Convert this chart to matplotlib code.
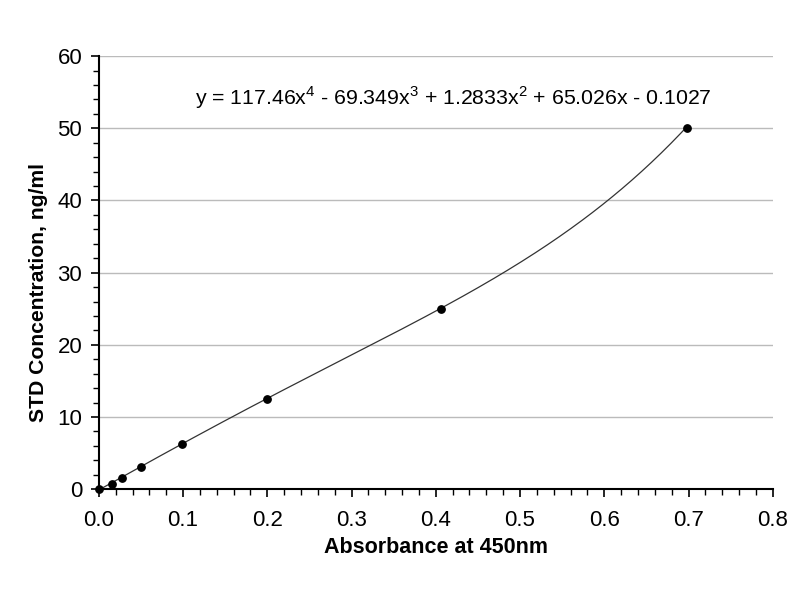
import matplotlib
matplotlib.use('Agg')
import matplotlib.pyplot as plt
import numpy as np
from matplotlib.ticker import MultipleLocator

# standard curve points
absorbance = [0.0, 0.016, 0.028, 0.050, 0.099, 0.200, 0.406, 0.698]
concentration = [0.0, 0.78, 1.56, 3.125, 6.25, 12.5, 25.0, 50.0]

# 4th order polynomial fit coefficients (highest power first)
coeffs = [117.46, -69.349, 1.2833, 65.026, -0.1027]
eq_text = 'y = 117.46x$^4$ - 69.349x$^3$ + 1.2833x$^2$ + 65.026x - 0.1027'

plt.rcParams['font.family'] = ['Liberation Sans', 'DejaVu Sans']
plt.rcParams['mathtext.fontset'] = 'custom'
plt.rcParams['mathtext.rm'] = 'Liberation Sans'

fig = plt.figure(figsize=(8.1, 6.1), dpi=100)
ax = fig.add_axes([0.122, 0.198, 0.832, 0.71])

xs = np.linspace(0, max(absorbance), 300)
ax.plot(xs, np.polyval(coeffs, xs), color='#333333', lw=0.9, zorder=2)
ax.scatter(absorbance, concentration, s=28, color='black', zorder=3, clip_on=False)

ax.set_xlim(0, 0.8)
ax.set_ylim(0, 60)
ax.set_xticks(np.arange(0, 0.81, 0.1))
ax.set_xticklabels(['%.1f' % v for v in np.arange(0, 0.81, 0.1)])
ax.xaxis.set_minor_locator(MultipleLocator(0.02))
ax.yaxis.set_major_locator(MultipleLocator(10))
ax.yaxis.set_minor_locator(MultipleLocator(2))

ax.grid(axis='y', color='#bbbbbb', lw=1)
ax.set_axisbelow(True)
ax.spines['top'].set_visible(False)
ax.spines['right'].set_visible(False)
ax.spines['left'].set_linewidth(1.5)
ax.spines['bottom'].set_linewidth(1.5)
ax.tick_params(which='major', direction='out', length=6, width=1.2, labelsize=16)
ax.tick_params(which='minor', direction='out', length=4, width=1)
ax.tick_params(axis='x', which='major', pad=9)
ax.tick_params(axis='y', which='major', pad=6)

ax.set_xlabel('Absorbance at 450nm', fontsize=15.5, fontweight='bold', labelpad=4)
ax.set_ylabel('STD Concentration, ng/ml', fontsize=15.2, fontweight='bold')
ax.yaxis.set_label_coords(-0.076, 0.455)
ax.text(0.421, 54.3, eq_text, fontsize=15.3, ha='center', va='center')

fig.savefig('out.png', dpi=100)
